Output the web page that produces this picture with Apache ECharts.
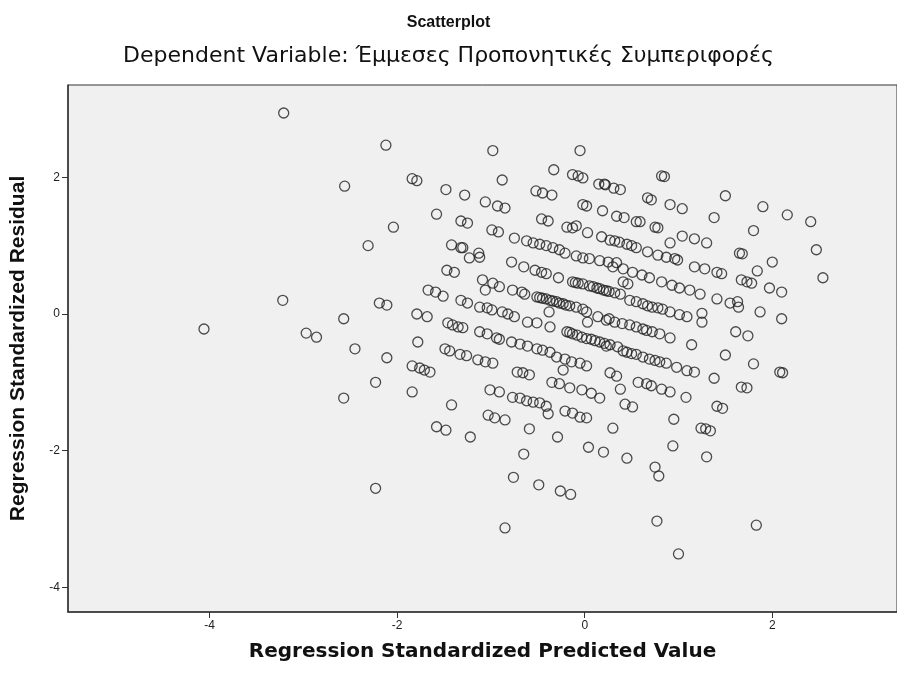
<!DOCTYPE html>
<html>
<head>
<meta charset="utf-8">
<script src="https://cdn.jsdelivr.net/npm/echarts@6/dist/echarts.min.js"></script>
<style>
  html, body { margin: 0; padding: 0; background: #fff; }
  #chart { width: 897px; height: 675px; }
</style>
</head>
<body>
<div id="chart"></div>
<script>
// axis labels / ticks
const xTicks = [-4, -2, 0, 2]
const yTicks = [-4, -2, 0, 2]
const xRange = [-5.51, 3.33]
const yRange = [-4.36, 3.35]

// [standardized predicted value, standardized residual]
const points = [
  [-3.21, 2.94], [-2.12, 2.47], [-0.98, 2.39], [-0.05, 2.39], [-2.56, 1.87], [-1.84, 1.98], [-1.79, 1.95],
  [-2.31, 1.00], [-2.04, 1.27], [-3.22, 0.20], [-4.06, -0.22], [-2.97, -0.28], [-2.86, -0.34], [-2.57, -0.07],
  [-2.45, -0.51], [-2.19, 0.16], [-2.11, 0.13], [-2.11, -0.64], [-2.23, -1.00], [-2.57, -1.23], [-1.84, -0.76],
  [-1.84, -1.14], [-1.79, 0.00], [-1.78, -0.41], [-2.23, -2.55],
  [-1.58, -1.65], [-1.48, -1.70], [-1.22, -1.80], [-0.59, -1.68], [-0.29, -1.80], [0.04, -1.95], [0.20, -2.02],
  [0.30, -1.67], [-0.65, -2.05], [-0.76, -2.39], [-0.49, -2.50], [-0.26, -2.59], [-0.15, -2.64], [-0.85, -3.13],
  [0.45, -2.11], [0.94, -1.93], [0.75, -2.24], [0.79, -2.37], [1.24, -1.67], [1.29, -1.68], [1.34, -1.71],
  [1.30, -2.09], [0.77, -3.03], [1.83, -3.09], [1.00, -3.51],
  [0.82, 2.02], [0.85, 2.01], [1.50, 1.73], [1.90, 1.57], [2.16, 1.45], [2.41, 1.35], [2.47, 0.94],
  [1.80, 1.22], [1.38, 1.41], [1.65, 0.89], [1.68, 0.88], [2.00, 0.76], [0.91, 1.60], [1.04, 1.54],
  [0.67, 1.70], [0.71, 1.67], [0.21, 1.90], [0.31, 1.84], [0.38, 1.82], [0.19, 1.51], [0.34, 1.43],
  [0.42, 1.41], [0.55, 1.35], [0.59, 1.35], [0.75, 1.27], [0.78, 1.26], [0.91, 1.04], [1.04, 1.14],
  [1.17, 1.10], [1.30, 1.04],
  [0.18, 1.13], [0.27, 1.08], [0.32, 1.07], [0.37, 1.05], [0.45, 1.02], [0.50, 1.00], [0.55, 0.97],
  [0.67, 0.91], [0.78, 0.86], [0.87, 0.83], [0.96, 0.81], [0.99, 0.79],
  [-0.33, 2.11], [-0.13, 2.04], [-0.07, 2.02], [-0.02, 1.99], [0.15, 1.90], [0.22, 1.89],
  [-0.88, 1.96], [-1.48, 1.82], [-1.28, 1.74], [-1.06, 1.64], [-0.93, 1.58], [-0.85, 1.55],
  [-0.52, 1.80], [-0.45, 1.77], [-0.35, 1.74], [-0.02, 1.60], [0.02, 1.58], [-1.58, 1.46],
  [-1.32, 1.36], [-1.25, 1.33], [-0.46, 1.39], [-0.39, 1.36], [-0.99, 1.23], [-0.92, 1.20],
  [-0.75, 1.11], [-0.19, 1.27], [-0.13, 1.26], [-0.09, 1.29], [0.03, 1.19], [-1.42, 1.01],
  [-1.32, 0.97], [-1.30, 0.97], [-1.13, 0.89], [-1.23, 0.82], [-0.62, 1.07], [-0.55, 1.04],
  [-0.48, 1.02], [-0.41, 1.00], [-0.34, 0.97], [-0.27, 0.94], [-0.21, 0.89], [-0.09, 0.85],
  [-0.02, 0.82], [0.05, 0.81], [0.16, 0.78], [0.25, 0.76], [0.34, 0.75], [-0.78, 0.76], [-1.12, 0.83],
  [-1.47, 0.64], [-1.39, 0.61], [-0.65, 0.69], [-0.53, 0.64], [-0.46, 0.61], [-0.41, 0.59], [-0.28, 0.53],
  [-0.13, 0.47], [-0.07, 0.45], [-0.02, 0.44], [0.05, 0.41], [0.13, 0.38], [0.16, 0.37], [0.23, 0.34],
  [0.32, 0.31], [-1.09, 0.50], [-0.98, 0.45], [-0.91, 0.40], [-1.06, 0.35], [-1.67, 0.35], [-1.59, 0.32],
  [-1.51, 0.26], [-0.77, 0.35], [-0.67, 0.32], [-0.64, 0.29], [-0.51, 0.25], [-0.45, 0.23], [-0.37, 0.20],
  [-0.30, 0.18], [-0.23, 0.15], [-0.16, 0.12], [-0.09, 0.10], [-0.02, 0.07], [0.02, 0.03], [-1.32, 0.20],
  [-1.25, 0.16], [-1.12, 0.10], [-1.04, 0.09], [-0.99, 0.06], [-0.88, 0.03], [-0.82, 0.00], [-0.75, -0.04],
  [-0.38, 0.03], [-0.61, -0.12], [-0.51, -0.13], [-0.37, -0.19], [-1.68, -0.04], [0.03, -0.12], [0.14, -0.04],
  [0.23, -0.09], [0.32, -0.12], [-1.46, -0.13], [-1.41, -0.16], [-1.35, -0.19], [-1.30, -0.20], [-1.12, -0.26],
  [-1.04, -0.29], [-0.94, -0.35], [-0.91, -0.37], [-0.78, -0.41], [-0.69, -0.44], [-0.61, -0.47], [-0.51, -0.51],
  [-0.45, -0.53], [-0.37, -0.56], [-0.19, -0.26], [-0.13, -0.29], [-0.03, -0.34], [0.07, -0.37], [0.16, -0.41],
  [0.27, -0.45], [0.35, -0.48], [-1.49, -0.51], [-1.44, -0.54], [-1.33, -0.59], [-1.26, -0.61], [-1.14, -0.67],
  [-1.06, -0.70], [-0.98, -0.72], [-0.30, -0.63], [-0.21, -0.66], [-0.14, -0.70], [-0.05, -0.72], [0.02, -0.76],
  [-0.23, -0.82], [-0.72, -0.85], [-0.66, -0.86], [-0.59, -0.89], [-1.76, -0.79], [-1.71, -0.82], [-1.65, -0.85],
  [-0.35, -1.00], [-0.27, -1.02], [-0.16, -1.08], [-0.03, -1.11], [0.07, -1.16], [0.16, -1.23], [0.27, -0.86],
  [0.34, -0.91], [-1.01, -1.11], [-0.91, -1.14], [-0.77, -1.22], [-0.69, -1.23], [-0.62, -1.27], [-0.55, -1.29],
  [-0.48, -1.30], [-0.41, -1.35], [-1.42, -1.33], [-0.39, -1.46], [-0.21, -1.42], [-0.13, -1.45], [-0.05, -1.51],
  [0.02, -1.52], [-1.03, -1.48], [-0.96, -1.52], [-0.85, -1.55],
  [0.30, 0.69], [0.41, 0.66], [0.51, 0.61], [0.61, 0.57], [0.69, 0.53], [0.82, 0.47], [0.93, 0.42],
  [1.01, 0.38], [1.12, 0.35], [1.23, 0.29], [0.41, 0.47], [0.46, 0.44], [0.48, 0.20], [0.62, 0.15],
  [0.72, 0.10], [0.83, 0.07], [0.91, 0.03], [1.01, -0.01], [1.09, -0.04], [1.17, 0.69], [1.28, 0.66],
  [1.41, 0.61], [1.46, 0.59], [1.67, 0.50], [1.73, 0.47], [1.78, 0.45], [1.84, 0.63], [1.97, 0.38],
  [2.10, 0.32], [2.54, 0.53], [1.41, 0.22], [1.55, 0.16], [1.63, 0.18], [1.64, 0.10], [1.25, 0.01],
  [1.25, -0.12], [1.87, 0.03], [2.10, -0.07], [0.48, -0.16], [0.62, -0.22], [0.72, -0.26], [0.80, -0.29],
  [0.91, -0.35], [1.61, -0.26], [1.74, -0.32], [1.14, -0.45], [0.45, -0.56], [0.55, -0.59], [0.69, -0.66],
  [0.80, -0.70], [0.87, -0.72], [0.98, -0.78], [1.09, -0.83], [1.17, -0.85], [1.50, -0.60], [1.80, -0.73],
  [2.08, -0.85], [2.11, -0.86], [0.38, -1.10], [0.57, -1.00], [0.66, -1.02], [0.71, -1.05], [0.82, -1.10],
  [0.91, -1.14], [1.38, -0.94], [1.08, -1.22], [1.67, -1.07], [1.73, -1.08], [0.43, -1.32], [0.51, -1.36],
  [1.41, -1.35], [1.47, -1.38], [0.95, -1.54],
  // overlapping circles in the dense diagonal bands
  [-0.48, 0.24], [-0.41, 0.22], [-0.34, 0.19], [-0.27, 0.16], [-0.20, 0.13], [-0.10, 0.46], [0.09, 0.40],
  [0.20, 0.35], [-0.16, -0.27], [-0.08, -0.31], [0.02, -0.36], [0.11, -0.39], [0.21, -0.43], [0.26, -0.07],
  [0.40, -0.14], [0.55, -0.19], [0.66, -0.24], [0.23, -0.47], [0.41, -0.54], [0.50, -0.58], [0.62, -0.63],
  [0.75, -0.68], [0.26, 0.33], [0.38, 0.29], [0.55, 0.18], [0.67, 0.12], [0.78, 0.09]
]

const chart = echarts.init(document.getElementById('chart'))

const wideFont = 'DejaVu Sans, Verdana, sans-serif'
const titleFont = 'Liberation Sans, Arial, sans-serif'
const tickLabel = { color: '#222', fontSize: 12, fontFamily: titleFont }

chart.setOption({
  animation: false,
  backgroundColor: '#fff',
  title: [
    {
      text: 'Scatterplot',
      left: 'center',
      top: 10,
      textStyle: { fontSize: 16, fontWeight: 'bold', color: '#111', fontFamily: titleFont }
    },
    {
      text: 'Dependent Variable: Έμμεσες Προπονητικές Συμπεριφορές',
      left: 'center',
      top: 40,
      textStyle: { fontSize: 22, fontWeight: 'normal', color: '#111', fontFamily: wideFont }
    }
  ],
  grid: {
    left: 68,
    right: 0,
    top: 85,
    bottom: 63,
    show: true,
    backgroundColor: '#f0f0f0',
    borderColor: '#333',
    borderWidth: 1
  },
  xAxis: {
    type: 'value',
    min: xRange[0],
    max: xRange[1],
    name: 'Regression Standardized Predicted Value',
    nameLocation: 'middle',
    nameGap: 30,
    nameTextStyle: { fontSize: 20, fontWeight: 'bold', color: '#111', fontFamily: wideFont },
    axisLine: { onZero: false, lineStyle: { color: '#333', width: 1.5 } },
    axisTick: { show: true, length: 6, customValues: xTicks, lineStyle: { color: '#333' } },
    axisLabel: { customValues: xTicks, margin: 8, ...tickLabel },
    splitLine: { show: false }
  },
  yAxis: {
    type: 'value',
    min: yRange[0],
    max: yRange[1],
    name: 'Regression Standardized Residual',
    nameLocation: 'middle',
    nameGap: 39,
    nameTextStyle: { fontSize: 21, fontWeight: 'bold', color: '#111', fontFamily: titleFont },
    axisLine: { show: true, onZero: false, lineStyle: { color: '#333', width: 1.5 } },
    axisTick: { show: true, length: 6, customValues: yTicks, lineStyle: { color: '#333' } },
    axisLabel: { customValues: yTicks, margin: 8, ...tickLabel },
    splitLine: { show: false }
  },
  series: [
    {
      type: 'scatter',
      data: points,
      symbol: 'circle',
      symbolSize: 10,
      itemStyle: { color: 'rgba(0,0,0,0)', borderColor: '#222', borderWidth: 1.3 }
    }
  ]
})
</script>
</body>
</html>
